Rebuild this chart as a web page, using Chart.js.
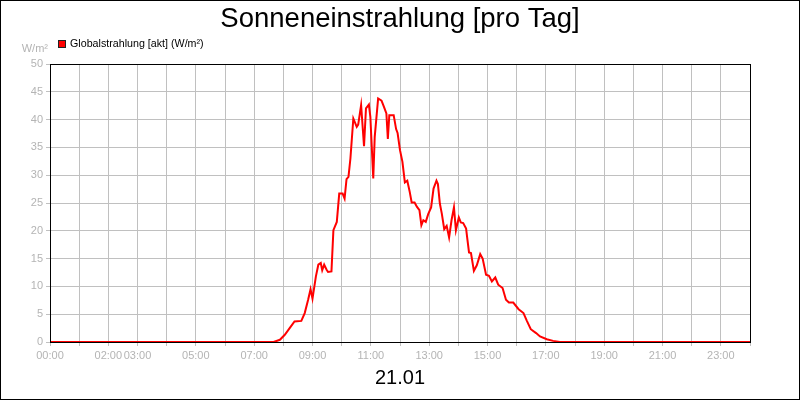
<!DOCTYPE html>
<html>
<head>
<meta charset="utf-8">
<title>Sonneneinstrahlung</title>
<script src="https://cdn.jsdelivr.net/npm/chart.js@4.4.1/dist/chart.umd.min.js"></script>
<style>
  html, body { margin: 0; padding: 0; background: #fff; }
  canvas { display: block; }
</style>
</head>
<body>
<canvas id="sunChart" width="800" height="400"></canvas>
<script>
// Texte
const titleText = 'Sonneneinstrahlung [pro Tag]';
const seriesLabel = 'Globalstrahlung [akt] (W/m²)';
const unitLabel = 'W/m²';
const dayLabel = '21.01';

// Messwerte (Uhrzeit / W/m²)
const times = ['00:00','07:40','07:53','08:03','08:13','08:23','08:37','08:44','08:51','08:56',
  '09:00','09:07','09:12','09:17','09:20','09:24','09:29','09:32','09:39','09:43','09:50','09:55',
  '10:02','10:06','10:10','10:14','10:18','10:24','10:31','10:34','10:40','10:46','10:50','10:56','10:59',
  '11:05','11:08','11:15','11:22','11:27','11:32','11:35','11:38','11:47','11:52','11:55',
  '12:00','12:05','12:10','12:15','12:20','12:24','12:30','12:35','12:40','12:44','12:48','12:53','12:58',
  '13:04','13:09','13:15','13:18','13:22','13:26','13:31','13:36','13:41','13:46','13:51','13:55',
  '14:01','14:05','14:10','14:16','14:18','14:22','14:26','14:32','14:38','14:45','14:50','14:57',
  '15:03','15:09','15:16','15:22','15:31','15:38','15:44','15:53',
  '16:04','16:14','16:21','16:29','16:40','16:48','17:02','17:15','17:29','24:00'];
const values = [0, 0, 0.4, 1.3, 2.5, 3.7, 3.8, 5.2, 7.6, 9.5,
  7.8, 11.8, 13.9, 14.2, 12.9, 13.9, 13.0, 12.6, 12.7, 20.1, 21.6, 26.7,
  26.7, 25.8, 29.3, 29.7, 33.0, 40.2, 38.7, 39.1, 42.6, 35.2, 42.0, 42.7, 40.5,
  29.4, 36.9, 43.8, 43.4, 42.3, 41.1, 36.5, 40.8, 40.8, 38.3, 37.6,
  34.5, 32.4, 28.7, 29.0, 27.0, 25.1, 25.1, 24.3, 23.7, 21.0, 21.9, 21.6, 23.0,
  24.2, 27.6, 29.0, 28.4, 24.9, 23.1, 20.3, 20.9, 18.8, 21.9, 24.2, 20.1,
  22.4, 21.5, 21.4, 20.4, 18.9, 16.1, 16.0, 12.8, 13.8, 15.8, 15.0, 12.1,
  11.9, 10.9, 11.6, 10.3, 9.7, 7.6, 7.1, 7.1,
  5.9, 5.2, 3.8, 2.3, 1.6, 1.0, 0.5, 0.2, 0, 0];

// Beschriftete Stunden auf der x-Achse
const xTickHours = [0, 2, 3, 5, 7, 9, 11, 13, 15, 17, 19, 21, 23];
const yMin = 0, yMax = 50, yStep = 5;

const FONT = "'Liberation Sans', Arial, sans-serif";
const GRID = '#c0c0c0';
const TICK_TEXT = '#b4b4b4';

function toHours(t) {
    const [h, m] = t.split(':').map(Number);
    return h + m / 60;
}

function pad2(n) {
    return String(n).padStart(2, '0');
}

const points = times.map((t, i) => ({ x: toHours(t), y: values[i] }));

// Rahmen, Titel, Legende usw.
const decorations = {
    id: 'decorations',
    afterDatasetsDraw(chart) {
        const { ctx, chartArea: a } = chart;
        ctx.save();
        ctx.strokeStyle = '#000';
        ctx.lineWidth = 1;
        ctx.strokeRect(a.left + 0.5, a.top + 0.5, a.right - a.left, a.bottom - a.top);
        ctx.restore();
    },
    afterDraw(chart) {
        const ctx = chart.ctx;
        ctx.save();
        ctx.fillStyle = '#000';
        ctx.textAlign = 'center';
        ctx.textBaseline = 'alphabetic';
        ctx.font = '27.5px ' + FONT;
        ctx.fillText(titleText, 400, 27);

        // Legende
        ctx.fillStyle = '#ff0000';
        ctx.fillRect(59, 41, 6, 6);
        ctx.strokeStyle = '#222';
        ctx.strokeRect(58.5, 40.5, 7, 7);
        ctx.fillStyle = '#000';
        ctx.textAlign = 'left';
        ctx.textBaseline = 'middle';
        ctx.font = '10.7px ' + FONT;
        ctx.fillText(seriesLabel, 70, 44.5);

        // Einheit
        ctx.fillStyle = TICK_TEXT;
        ctx.textAlign = 'right';
        ctx.font = '11px ' + FONT;
        ctx.fillText(unitLabel, 48, 49);

        // Datum
        ctx.fillStyle = '#000';
        ctx.textAlign = 'center';
        ctx.textBaseline = 'alphabetic';
        ctx.font = '20px ' + FONT;
        ctx.fillText(dayLabel, 400, 384);

        ctx.strokeStyle = '#000';
        ctx.strokeRect(0.5, 0.5, 799, 399);
        ctx.restore();
    }
};

const ctx = document.getElementById('sunChart').getContext('2d');
new Chart(ctx, {
    type: 'line',
    data: {
        datasets: [{
            label: seriesLabel,
            data: points,
            borderColor: '#ff0000',
            borderWidth: 2,
            pointRadius: 0,
            tension: 0,
            fill: false,
            clip: { left: 0, top: 0, right: 0, bottom: 2 }
        }]
    },
    options: {
        responsive: false,
        animation: false,
        events: [],
        layout: { padding: { top: 64, right: 50, bottom: 0, left: 0 } },
        plugins: {
            legend: { display: false },
            title: { display: false },
            tooltip: { enabled: false }
        },
        scales: {
            x: {
                type: 'linear',
                min: 0,
                max: 24,
                afterFit(scale) { scale.height = 58; },
                grid: { color: GRID, lineWidth: 1, tickLength: 4 },
                border: { display: false },
                ticks: {
                    stepSize: 1,
                    autoSkip: false,
                    maxRotation: 0,
                    padding: 3,
                    color: TICK_TEXT,
                    font: { family: FONT, size: 11 },
                    callback: v => xTickHours.includes(v) ? pad2(v) + ':00' : ''
                }
            },
            y: {
                min: yMin,
                max: yMax,
                afterFit(scale) { scale.width = 50; },
                grid: { color: GRID, lineWidth: 1, tickLength: 4 },
                border: { display: false },
                ticks: {
                    stepSize: yStep,
                    padding: 3,
                    color: TICK_TEXT,
                    font: { family: FONT, size: 11 }
                }
            }
        }
    },
    plugins: [decorations]
});
</script>
</body>
</html>
